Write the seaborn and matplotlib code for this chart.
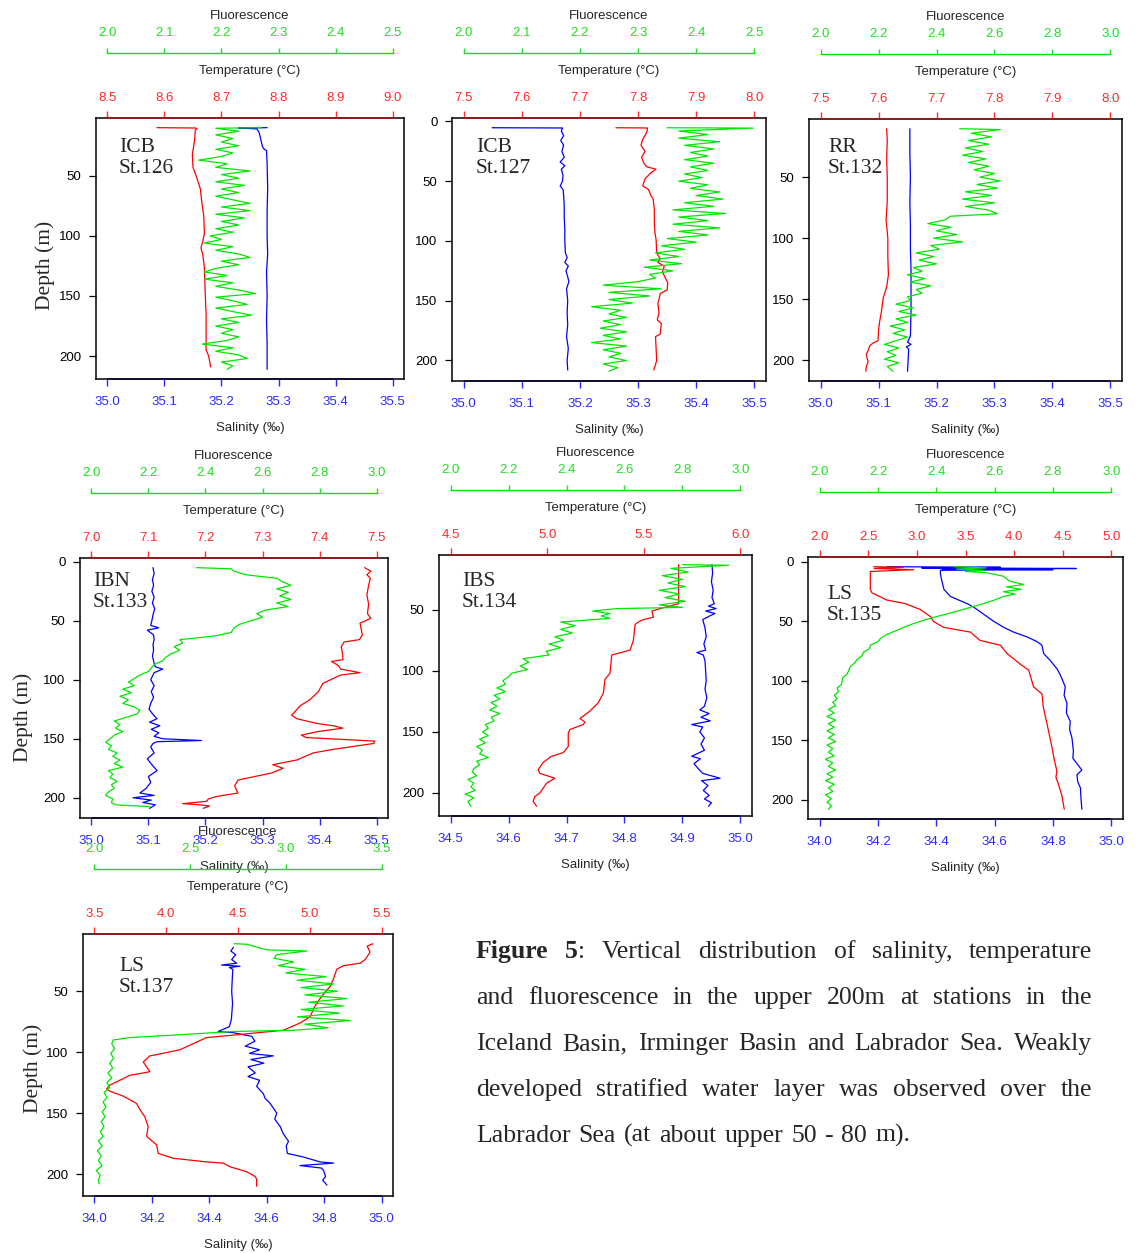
import matplotlib
matplotlib.use("Agg")
import matplotlib.pyplot as plt
import seaborn as sns

# ---------------- profile data (depth in m) ----------------
# St.126 (ICB)
sal126_d = [10, 10.3, 11, 14, 18, 22, 26, 28, 29, 40,
            60, 80, 100, 115, 130, 150, 170, 190, 211]
sal126 = [35.280, 35.230, 35.262, 35.266, 35.268, 35.270, 35.272, 35.275, 35.279, 35.280,
          35.281, 35.280, 35.280, 35.281, 35.279, 35.280, 35.279, 35.280, 35.280]
temp126_d = [10, 10.3, 11, 12, 20, 26, 32, 43, 48, 55,
             61, 70, 84, 98, 105, 110, 115, 126, 140, 154,
             165, 180, 195, 198, 201, 209]
temp126 = [8.587, 8.655, 8.657, 8.654, 8.653, 8.651, 8.649, 8.650, 8.654, 8.659,
           8.663, 8.665, 8.669, 8.670, 8.667, 8.664, 8.667, 8.670, 8.671, 8.672,
           8.673, 8.673, 8.673, 8.676, 8.678, 8.681]
fl126_d = [10, 10.5, 13, 16, 19, 22, 25, 28, 31, 34,
           37, 40, 43, 46, 49, 52, 55, 58, 61, 64,
           67, 70, 73, 76, 79, 82, 85, 88, 91, 94,
           97, 100, 103, 106, 109, 112, 115, 118, 121, 124,
           127, 130, 133, 136, 139, 142, 145, 148, 151, 154,
           157, 160, 163, 166, 169, 172, 175, 178, 181, 184,
           187, 190, 193, 196, 199, 202, 205, 208, 211]
fl126 = [2.27, 2.19, 2.23, 2.19, 2.22, 2.20, 2.23, 2.19, 2.22, 2.20,
         2.16, 2.21, 2.19, 2.25, 2.20, 2.23, 2.19, 2.24, 2.20, 2.23,
         2.19, 2.22, 2.25, 2.20, 2.25, 2.19, 2.24, 2.20, 2.23, 2.19,
         2.22, 2.18, 2.20, 2.17, 2.22, 2.19, 2.23, 2.25, 2.20, 2.23,
         2.19, 2.17, 2.21, 2.17, 2.22, 2.19, 2.23, 2.26, 2.19, 2.22,
         2.245, 2.19, 2.22, 2.253, 2.20, 2.23, 2.19, 2.22, 2.20, 2.23,
         2.21, 2.166, 2.22, 2.19, 2.23, 2.245, 2.20, 2.22, 2.21]

# St.127 (ICB)
sal127_d = [5.3, 5.5, 8, 12, 16, 20, 25, 30, 34, 37,
            40, 45, 50, 54, 57, 62, 70, 80, 90, 100,
            110, 114, 118, 121, 125, 130, 134, 140, 150, 160,
            170, 180, 190, 200, 208]
sal127 = [35.049, 35.170, 35.168, 35.172, 35.167, 35.172, 35.169, 35.173, 35.166, 35.174,
          35.168, 35.171, 35.170, 35.166, 35.171, 35.172, 35.173, 35.173, 35.174, 35.174,
          35.175, 35.178, 35.174, 35.180, 35.176, 35.179, 35.181, 35.177, 35.179, 35.178,
          35.179, 35.177, 35.180, 35.178, 35.179]
temp127_d = [5.3, 5.5, 7, 10, 15, 20, 25, 30, 35, 38,
             40, 43, 48, 54, 57, 62, 65, 74, 85, 93,
             99, 110, 115, 118, 121, 126, 130, 135, 141, 144,
             149, 152, 160, 166, 169, 178, 180, 190, 200, 205, 208]
temp127 = [7.762, 7.816, 7.816, 7.814, 7.808, 7.805, 7.812, 7.806, 7.810, 7.815,
           7.831, 7.822, 7.812, 7.808, 7.818, 7.822, 7.826, 7.828, 7.828, 7.829,
           7.831, 7.832, 7.838, 7.834, 7.845, 7.842, 7.846, 7.851, 7.850, 7.838,
           7.836, 7.834, 7.836, 7.833, 7.840, 7.838, 7.830, 7.831, 7.832, 7.829, 7.827]
fl127_d = [5.3, 5.6, 8, 11, 14, 17, 20, 23, 26, 29,
           32, 35, 38, 41, 44, 47, 50, 53, 56, 59,
           62, 65, 68, 71, 74, 77, 80, 83, 86, 89,
           92, 95, 98, 101, 104, 107, 110, 113, 116, 119,
           122, 125, 128, 131, 134, 137, 140, 143, 146, 149,
           152, 155, 158, 161, 164, 167, 170, 173, 176, 179,
           182, 185, 188, 191, 194, 197, 200, 203, 206, 209]
fl127 = [2.35, 2.498, 2.37, 2.42, 2.37, 2.44, 2.38, 2.43, 2.39, 2.42,
         2.38, 2.43, 2.39, 2.42, 2.38, 2.41, 2.37, 2.42, 2.39, 2.44,
         2.40, 2.446, 2.38, 2.43, 2.36, 2.45, 2.37, 2.42, 2.36, 2.44,
         2.37, 2.42, 2.35, 2.40, 2.34, 2.38, 2.33, 2.37, 2.32, 2.375,
         2.31, 2.36, 2.32, 2.33, 2.30, 2.24, 2.34, 2.25, 2.32, 2.25,
         2.29, 2.22, 2.27, 2.25, 2.28, 2.24, 2.27, 2.235, 2.28, 2.24,
         2.27, 2.22, 2.28, 2.24, 2.27, 2.25, 2.28, 2.24, 2.265, 2.25]

# St.132 (RR)
sal132_d = [10.3, 30, 50, 70, 90, 110, 125, 140, 160, 180,
            185, 187, 189, 191, 200, 209]
sal132 = [35.154, 35.154, 35.155, 35.154, 35.155, 35.155, 35.156, 35.156, 35.156, 35.155,
          35.150, 35.156, 35.148, 35.152, 35.151, 35.150]
temp132_d = [10.3, 20, 35, 50, 70, 85, 100, 115, 130, 140,
             149, 160, 168, 175, 184, 186, 188, 192, 195, 198,
             201, 205, 209]
temp132 = [7.614, 7.615, 7.614, 7.615, 7.615, 7.613, 7.616, 7.616, 7.617, 7.614,
           7.608, 7.605, 7.602, 7.600, 7.599, 7.590, 7.585, 7.582, 7.579, 7.580,
           7.582, 7.579, 7.578]
fl132_d = [10.3, 11, 14, 17, 20, 23, 26, 29, 32, 35,
           38, 41, 44, 47, 50, 53, 56, 59, 62, 65,
           68, 71, 74, 77, 80, 82, 85, 88, 91, 94,
           97, 100, 103, 106, 109, 112, 115, 118, 121, 124,
           127, 130, 133, 136, 139, 142, 145, 148, 151, 154,
           157, 160, 163, 166, 169, 172, 175, 178, 181, 184,
           187, 190, 193, 196, 199, 202, 205, 209]
fl132 = [2.48, 2.62, 2.52, 2.59, 2.51, 2.58, 2.50, 2.56, 2.49, 2.57,
         2.51, 2.58, 2.53, 2.60, 2.55, 2.62, 2.54, 2.61, 2.50, 2.59,
         2.49, 2.60, 2.50, 2.58, 2.61, 2.447, 2.43, 2.37, 2.45, 2.40,
         2.47, 2.39, 2.49, 2.38, 2.41, 2.33, 2.39, 2.34, 2.40, 2.32,
         2.35, 2.30, 2.36, 2.31, 2.38, 2.33, 2.35, 2.30, 2.31, 2.26,
         2.32, 2.27, 2.33, 2.26, 2.30, 2.24, 2.29, 2.25, 2.30, 2.26,
         2.22, 2.27, 2.23, 2.26, 2.22, 2.27, 2.23, 2.25]

# St.133 (IBN)
sal133_d = [5, 10, 15, 20, 25, 30, 35, 40, 45, 50,
            54, 56, 58, 62, 66, 70, 75, 80, 86, 89,
            91, 94, 100, 105, 110, 115, 120, 125, 130, 133,
            136, 139, 142, 145, 148, 150, 151.5, 152.5, 154, 157,
            162, 167, 172, 177, 182, 187, 192, 196, 198, 200,
            202, 204, 206, 209]
sal133 = [35.108, 35.110, 35.107, 35.109, 35.106, 35.110, 35.107, 35.111, 35.108, 35.106,
          35.104, 35.118, 35.098, 35.109, 35.110, 35.108, 35.109, 35.107, 35.110, 35.112,
          35.125, 35.110, 35.104, 35.110, 35.105, 35.109, 35.104, 35.101, 35.109, 35.115,
          35.102, 35.120, 35.105, 35.118, 35.110, 35.125, 35.193, 35.115, 35.108, 35.104,
          35.110, 35.098, 35.106, 35.115, 35.100, 35.104, 35.096, 35.085, 35.110, 35.073,
          35.105, 35.090, 35.112, 35.102]
temp133_d = [5, 8, 11, 14, 20, 28, 36, 44, 48, 52,
             57, 62, 66, 68, 72, 77, 83, 84.5, 88, 91,
             94, 96, 103, 110, 117, 122, 127, 130, 133, 137,
             139, 141, 144, 147, 149, 152, 154, 159, 162, 168,
             172, 175, 179, 185, 190, 196, 199, 201, 203, 205,
             206, 207, 209]
temp133 = [7.479, 7.490, 7.483, 7.489, 7.486, 7.483, 7.486, 7.484, 7.490, 7.471,
           7.473, 7.475, 7.470, 7.443, 7.438, 7.440, 7.441, 7.421, 7.433, 7.437,
           7.471, 7.437, 7.406, 7.398, 7.383, 7.366, 7.357, 7.351, 7.360, 7.395,
           7.424, 7.441, 7.396, 7.368, 7.377, 7.497, 7.495, 7.424, 7.389, 7.360,
           7.318, 7.336, 7.316, 7.257, 7.251, 7.257, 7.219, 7.205, 7.202, 7.160,
           7.190, 7.207, 7.196]
fl133_d = [5, 6, 8, 11, 14, 17, 20, 23, 26, 29,
           32, 35, 38, 41, 44, 47, 50, 53, 56, 60,
           63, 66, 69, 72, 75, 78, 81, 84, 87, 90,
           93, 96, 99, 102, 105, 108, 111, 114, 117, 120,
           123, 126, 129, 132, 135, 138, 141, 144, 147, 150,
           153, 156, 159, 162, 165, 168, 171, 174, 177, 180,
           183, 186, 189, 192, 195, 198, 201, 204, 206, 207.5]
fl133 = [2.368, 2.49, 2.50, 2.54, 2.65, 2.67, 2.70, 2.65, 2.69, 2.66,
         2.70, 2.65, 2.69, 2.61, 2.58, 2.60, 2.56, 2.52, 2.50, 2.49,
         2.43, 2.31, 2.32, 2.29, 2.31, 2.28, 2.26, 2.25, 2.22, 2.21,
         2.20, 2.17, 2.15, 2.13, 2.15, 2.11, 2.14, 2.10, 2.13, 2.11,
         2.15, 2.17, 2.16, 2.12, 2.08, 2.10, 2.085, 2.11, 2.08, 2.065,
         2.05, 2.07, 2.06, 2.09, 2.075, 2.10, 2.08, 2.11, 2.06, 2.075,
         2.065, 2.09, 2.07, 2.08, 2.06, 2.05, 2.075, 2.07, 2.085, 2.204]

# St.134 (IBS)
sal134_d = [13, 20, 27, 34, 40, 45, 47, 49, 51, 53,
            55, 58, 65, 72, 78, 83, 85, 87, 92, 100,
            108, 115, 122, 129, 132, 135, 138, 141, 144, 146,
            150, 155, 160, 165, 170, 172, 176, 180, 184, 188,
            190, 194, 198, 202, 205, 208, 211]
sal134 = [34.951, 34.952, 34.950, 34.953, 34.951, 34.955, 34.945, 34.958, 34.940, 34.956,
          34.947, 34.935, 34.939, 34.941, 34.937, 34.940, 34.925, 34.936, 34.939, 34.940,
          34.941, 34.939, 34.942, 34.938, 34.930, 34.946, 34.932, 34.948, 34.916, 34.935,
          34.930, 34.938, 34.932, 34.938, 34.916, 34.931, 34.920, 34.927, 34.935, 34.965,
          34.933, 34.944, 34.936, 34.946, 34.938, 34.950, 34.945]
temp134_d = [13, 30, 45, 46, 49, 51, 56, 58, 60, 62,
             75, 83, 87, 102, 107, 118, 126, 133, 139, 142,
             144, 148, 151, 162, 167, 170, 175, 181, 184, 188,
             192, 200, 203, 207, 211]
temp134 = [5.680, 5.680, 5.680, 5.654, 5.585, 5.542, 5.550, 5.498, 5.472, 5.455,
           5.446, 5.429, 5.334, 5.325, 5.299, 5.291, 5.265, 5.221, 5.170, 5.195,
           5.187, 5.118, 5.109, 5.109, 5.083, 5.022, 4.979, 4.953, 4.962, 5.040,
           4.997, 4.962, 4.936, 4.927, 4.945]
fl134_d = [13, 13.5, 16, 19, 22, 25, 28, 31, 34, 37,
           40, 43, 46, 48, 49, 51, 53, 55, 57, 60,
           63, 66, 69, 72, 75, 78, 81, 84, 87, 90,
           93, 96, 99, 102, 105, 108, 111, 114, 117, 120,
           123, 126, 129, 132, 135, 138, 141, 144, 147, 150,
           153, 156, 159, 162, 165, 168, 171, 174, 177, 180,
           183, 186, 189, 192, 195, 198, 201, 204, 207, 211]
fl134 = [2.80, 2.96, 2.76, 2.82, 2.73, 2.80, 2.75, 2.81, 2.72, 2.79,
         2.74, 2.81, 2.72, 2.80, 2.573, 2.49, 2.55, 2.52, 2.55, 2.38,
         2.43, 2.38, 2.42, 2.36, 2.39, 2.34, 2.38, 2.33, 2.34, 2.25,
         2.27, 2.24, 2.265, 2.21, 2.20, 2.18, 2.19, 2.16, 2.19, 2.15,
         2.17, 2.14, 2.16, 2.135, 2.17, 2.14, 2.15, 2.12, 2.13, 2.11,
         2.13, 2.10, 2.12, 2.09, 2.11, 2.10, 2.13, 2.09, 2.10, 2.08,
         2.075, 2.09, 2.06, 2.08, 2.07, 2.085, 2.05, 2.08, 2.06, 2.07]

# St.135 (LS)
sal135_d = [4, 4.5, 5, 5.5, 6, 6.5, 7, 10, 15, 23,
            29, 35, 38, 42, 46, 50, 55, 59, 63, 67,
            70, 77, 83, 90, 95, 105, 112, 119, 127, 134,
            141, 148, 159, 165, 168, 175, 179, 185, 190, 199, 208]
sal135 = [34.23, 34.62, 34.35, 34.88, 34.42, 34.80, 34.414, 34.414, 34.418, 34.426,
          34.448, 34.505, 34.528, 34.551, 34.574, 34.597, 34.631, 34.665, 34.711, 34.745,
          34.762, 34.768, 34.791, 34.814, 34.825, 34.842, 34.838, 34.848, 34.846, 34.859,
          34.857, 34.865, 34.870, 34.868, 34.877, 34.899, 34.882, 34.885, 34.894, 34.896, 34.899]
temp135_d = [4, 4.5, 5.5, 6.5, 8, 15, 23, 26, 32, 35,
             40, 46, 50, 55, 59, 66, 70, 77, 86, 91,
             105, 111, 122, 136, 156, 165, 176, 181, 187, 196, 208]
temp135 = [2.555, 2.86, 2.56, 2.967, 2.521, 2.521, 2.521, 2.538, 2.69, 2.88,
           3.035, 3.14, 3.17, 3.275, 3.55, 3.65, 3.86, 3.927, 4.064, 4.15,
           4.20, 4.287, 4.30, 4.338, 4.39, 4.41, 4.44, 4.43, 4.456, 4.49, 4.516]
fl135_d = [4, 5, 6, 7, 8, 9, 12, 16, 19, 21,
           23, 25, 27, 29, 32, 35, 39, 43, 46, 49,
           52, 55, 58, 61, 64, 67, 70, 73, 76, 79,
           82, 85, 88, 91, 94, 97, 100, 103, 106, 109,
           112, 115, 118, 121, 124, 127, 130, 133, 136, 139,
           142, 145, 148, 151, 154, 157, 160, 163, 166, 169,
           172, 175, 178, 181, 184, 187, 190, 193, 196, 199,
           202, 205, 208]
fl135 = [2.46, 2.57, 2.47, 2.56, 2.50, 2.57, 2.63, 2.65, 2.70, 2.64,
         2.69, 2.63, 2.67, 2.63, 2.60, 2.562, 2.505, 2.448, 2.40, 2.357,
         2.32, 2.288, 2.26, 2.23, 2.21, 2.20, 2.174, 2.17, 2.15, 2.145,
         2.128, 2.12, 2.105, 2.10, 2.095, 2.08, 2.077, 2.075, 2.06, 2.065,
         2.05, 2.06, 2.045, 2.055, 2.03, 2.05, 2.025, 2.055, 2.03, 2.05,
         2.025, 2.05, 2.03, 2.055, 2.025, 2.045, 2.03, 2.05, 2.02, 2.045,
         2.03, 2.055, 2.025, 2.045, 2.02, 2.05, 2.03, 2.045, 2.02, 2.04,
         2.025, 2.04, 2.03]

# St.137 (LS)
sal137_d = [14, 17, 20, 24, 27, 28.5, 29.5, 30.5, 32, 40,
            50, 60, 73, 79, 83, 84, 87, 91, 95, 98,
            101, 103, 106, 109, 112, 117, 120, 123, 128, 134,
            138, 142, 150, 155, 161, 167, 173, 177, 183, 186,
            190, 191, 193, 195, 197, 202, 205, 209]
sal137 = [34.484, 34.475, 34.492, 34.478, 34.495, 34.443, 34.507, 34.470, 34.482, 34.480,
          34.478, 34.481, 34.477, 34.470, 34.431, 34.484, 34.548, 34.559, 34.525, 34.575,
          34.540, 34.623, 34.545, 34.590, 34.535, 34.560, 34.535, 34.575, 34.565, 34.588,
          34.595, 34.612, 34.635, 34.628, 34.647, 34.658, 34.676, 34.668, 34.672, 34.728,
          34.786, 34.833, 34.716, 34.790, 34.798, 34.805, 34.795, 34.810]
temp137_d = [11, 13, 18, 24, 27, 29, 32, 40, 46, 54,
             62, 71, 76, 82, 86, 88, 93, 98, 102, 103,
             108, 112, 116, 119, 123, 127, 130, 132, 136, 142,
             147, 153, 161, 169, 176, 183, 187, 190, 191, 194,
             198, 202, 204, 210]
temp137 = [5.440, 5.400, 5.420, 5.386, 5.351, 5.235, 5.188, 5.165, 5.142, 5.084,
           5.037, 5.002, 4.933, 4.816, 4.467, 4.281, 4.188, 4.095, 3.933, 3.886,
           3.840, 3.863, 3.886, 3.746, 3.677, 3.607, 3.584, 3.607, 3.700, 3.793,
           3.816, 3.851, 3.874, 3.863, 3.933, 3.944, 4.049, 4.281, 4.398, 4.444,
           4.560, 4.619, 4.630, 4.630]
fl137_d = [11, 11.5, 13, 16, 17, 20, 23, 26, 29, 32,
           35, 38, 41, 44, 47, 50, 53, 56, 59, 62,
           65, 68, 71, 74, 77, 80, 82, 83, 86, 88,
           90, 93, 97, 101, 105, 109, 113, 117, 121, 125,
           129, 133, 137, 141, 145, 149, 153, 157, 161, 165,
           169, 173, 177, 181, 185, 189, 193, 197, 201, 205, 208]
fl137 = [2.73, 2.80, 2.83, 2.90, 3.11, 2.95, 2.94, 3.04, 2.96, 3.10,
         3.00, 3.21, 3.06, 3.25, 3.08, 3.27, 3.10, 3.32, 3.12, 3.30,
         3.08, 3.28, 3.06, 3.336, 3.10, 3.22, 3.04, 2.726, 2.41, 2.185,
         2.098, 2.09, 2.106, 2.085, 2.10, 2.08, 2.095, 2.07, 2.09, 2.065,
         2.08, 2.05, 2.065, 2.045, 2.06, 2.04, 2.055, 2.035, 2.05, 2.03,
         2.045, 2.02, 2.04, 2.015, 2.035, 2.02, 2.04, 2.01, 2.03, 2.02, 2.025]

caption_lines = [
    "Figure 5: Vertical distribution of salinity, temperature",
    "and fluorescence in the upper 200m at stations in the",
    "Iceland Basin, Irminger Basin and Labrador Sea. Weakly",
    "developed stratified water layer was observed over the",
    "Labrador Sea (at about upper 50 - 80 m).",
]

# ---------------- styling ----------------
BLUE, RED, GREEN = "#0000ff", "#ff0000", "#00e600"
BLUE_TXT, RED_TXT, GREEN_TXT = "#2a2aff", "#ff2a2a", "#22dd22"

sns.set_style("ticks")
plt.rcParams["font.family"] = ["Liberation Sans", "DejaVu Sans"]
SERIF = ["Liberation Serif", "DejaVu Serif"]

W, H = 1139, 1253
PT = 0.72  # points per pixel at 100 dpi
fig = plt.figure(figsize=(W / 100, H / 100), dpi=100)


def ticks_between(lo, hi, step):
    n = int(round((hi - lo) / step))
    return [round(lo + i * step, 3) for i in range(n + 1)]


def padded(lo, hi):
    r = hi - lo
    return lo - 0.04 * r, hi + 0.04 * r


def draw_station(box, name, text_off, sal, temp, fluor, sal_ax, temp_ax, fl_ax):
    l, t, r, b = box
    ax = fig.add_axes([l / W, 1 - b / H, (r - l) / W, (b - t) / H])
    axt = ax.twiny()
    axf = ax.twiny()

    kw = dict(sort=False, estimator=None, linewidth=0.9)
    sns.lineplot(x=sal[1], y=sal[0], ax=ax, color=BLUE, **kw)
    sns.lineplot(x=temp[1], y=temp[0], ax=axt, color=RED, **kw)
    sns.lineplot(x=fluor[1], y=fluor[0], ax=axf, color=GREEN, **kw)

    # coloured axis line on the bottom (salinity)
    ax.plot(sal_ax[:2], [0, 0], transform=ax.get_xaxis_transform(),
            color="#2020e0", lw=1.2, clip_on=False, solid_capstyle="butt")

    depths = list(sal[0]) + list(temp[0]) + list(fluor[0])
    dlo, dhi = padded(min(depths), max(depths))

    # salinity (host)
    ax.set_xlim(*padded(*sal_ax[:2]))
    st = ticks_between(*sal_ax)
    ax.set_xticks(st)
    ax.set_xticklabels([f"{v:.1f}" for v in st])
    ax.tick_params(axis="x", colors=BLUE_TXT, length=5, width=1, pad=7,
                   labelsize=9.5, direction="out")
    ax.set_yticks([v for v in [0, 50, 100, 150, 200] if dlo <= v <= dhi])
    ax.tick_params(axis="y", colors="black", length=5, width=0.9, pad=5.5,
                   labelsize=9.5, direction="out")
    for s in ax.spines.values():
        s.set_visible(True)
        s.set_color("black")
        s.set_linewidth(1.1)
    ax.set_xlabel("")
    ax.set_ylabel("")
    ax.annotate("Salinity (‰)", xy=(0.5, 0), xycoords="axes fraction",
                xytext=(0, -49 * PT), textcoords="offset points",
                ha="center", va="center", fontsize=9.5)
    ax.text(text_off[0] / (r - l), 1 - text_off[1] / (b - t), name,
            transform=ax.transAxes, ha="left", va="top", family=SERIF,
            fontsize=15.5, linespacing=1.12)

    # temperature (top)
    axt.set_xlim(*padded(*temp_ax[:2]))
    tt = ticks_between(*temp_ax)
    axt.set_xticks(tt)
    axt.set_xticklabels([f"{v:.1f}" for v in tt])
    axt.tick_params(axis="x", colors=RED_TXT, length=5, width=1, pad=5.4,
                    labelsize=9.5, direction="out")
    for k, s in axt.spines.items():
        s.set_visible(k == "top")
    axt.spines["top"].set_bounds(*temp_ax[:2])
    axt.spines["top"].set_color("#a01515")
    axt.spines["top"].set_linewidth(1.2)
    axt.set_xlabel("")
    axt.annotate("Temperature (°C)", xy=(0.5, 1), xycoords="axes fraction",
                 xytext=(0, 47 * PT), textcoords="offset points",
                 ha="center", va="center", fontsize=9.5)

    # fluorescence (outer top)
    axf.set_xlim(*padded(*fl_ax[:2]))
    ft = ticks_between(*fl_ax)
    axf.set_xticks(ft)
    axf.set_xticklabels([f"{v:.1f}" for v in ft])
    axf.tick_params(axis="x", colors=GREEN_TXT, length=3.6, width=1, pad=6.2,
                    labelsize=9.5, direction="out")
    for k, s in axf.spines.items():
        s.set_visible(k == "top")
    axf.spines["top"].set_position(("outward", 65 * PT))
    axf.spines["top"].set_bounds(*fl_ax[:2])
    axf.spines["top"].set_color(GREEN)
    axf.spines["top"].set_linewidth(1.0)
    axf.set_xlabel("")
    axf.annotate("Fluorescence", xy=(0.5, 1), xycoords="axes fraction",
                 xytext=(0, 102 * PT), textcoords="offset points",
                 ha="center", va="center", fontsize=9.5)

    ax.set_ylim(dhi, dlo)
    return ax


draw_station((96, 118, 404, 379), "ICB\nSt.126", (23, 20),
             (sal126_d, sal126), (temp126_d, temp126), (fl126_d, fl126),
             (35.0, 35.5, 0.1), (8.5, 9.0, 0.1), (2.0, 2.5, 0.1))
draw_station((452, 118, 766, 381), "ICB\nSt.127", (24, 20),
             (sal127_d, sal127), (temp127_d, temp127), (fl127_d, fl127),
             (35.0, 35.5, 0.1), (7.5, 8.0, 0.1), (2.0, 2.5, 0.1))
draw_station((809, 119, 1122, 381), "RR\nSt.132", (19, 19),
             (sal132_d, sal132), (temp132_d, temp132), (fl132_d, fl132),
             (35.0, 35.5, 0.1), (7.5, 8.0, 0.1), (2.0, 3.0, 0.2))
draw_station((80, 558, 388, 818), "IBN\nSt.133", (13, 14),
             (sal133_d, sal133), (temp133_d, temp133), (fl133_d, fl133),
             (35.0, 35.5, 0.1), (7.0, 7.5, 0.1), (2.0, 3.0, 0.2))
draw_station((439, 555, 752, 816), "IBS\nSt.134", (23, 17),
             (sal134_d, sal134), (temp134_d, temp134), (fl134_d, fl134),
             (34.5, 35.0, 0.1), (4.5, 6.0, 0.5), (2.0, 3.0, 0.2))
draw_station((808, 557, 1123, 819), "LS\nSt.135", (19, 28),
             (sal135_d, sal135), (temp135_d, temp135), (fl135_d, fl135),
             (34.0, 35.0, 0.2), (2.0, 5.0, 0.5), (2.0, 3.0, 0.2))
draw_station((83, 934, 393, 1196), "LS\nSt.137", (36, 23),
             (sal137_d, sal137), (temp137_d, temp137), (fl137_d, fl137),
             (34.0, 35.0, 0.2), (3.5, 5.5, 0.5), (2.0, 3.5, 0.5))

for x, y in [(45, 265), (23, 717), (33, 1068)]:
    fig.text(x / W, 1 - y / H, "Depth (m)", rotation=90, ha="center",
             va="center", family=SERIF, fontsize=15.5)

# ---------------- justified caption ----------------
CAP_LEFT, CAP_RIGHT, CAP_LAST_RIGHT = 476, 1092, 910
CAP_BASE = [958, 1004, 1050, 1096, 1142]
CAP_SIZE = 18.5
renderer = fig.canvas.get_renderer()


def width_of(s, weight):
    tx = fig.text(0, 0, s, family=SERIF, fontsize=CAP_SIZE, weight=weight)
    w = tx.get_window_extent(renderer).width
    tx.remove()
    return w


for li, line in enumerate(caption_lines):
    words = line.split(" ")
    pieces = []
    for wi, w in enumerate(words):
        if li == 0 and wi == 0:
            pieces.append([(w, "bold")])
        elif li == 0 and wi == 1:
            pieces.append([(w[:-1], "bold"), (w[-1], "normal")])
        else:
            pieces.append([(w, "normal")])
    widths = [[width_of(s, wt) for s, wt in p] for p in pieces]
    total = sum(sum(ws) for ws in widths)
    right = CAP_RIGHT if li < len(caption_lines) - 1 else CAP_LAST_RIGHT
    gap = (right - CAP_LEFT - total) / (len(words) - 1)
    x = CAP_LEFT
    for p, ws in zip(pieces, widths):
        for (s, wt), w in zip(p, ws):
            fig.text(x / W, 1 - CAP_BASE[li] / H, s, family=SERIF,
                     fontsize=CAP_SIZE, weight=wt, ha="left", va="baseline")
            x += w
        x += gap

fig.savefig("out.png", dpi=100)
